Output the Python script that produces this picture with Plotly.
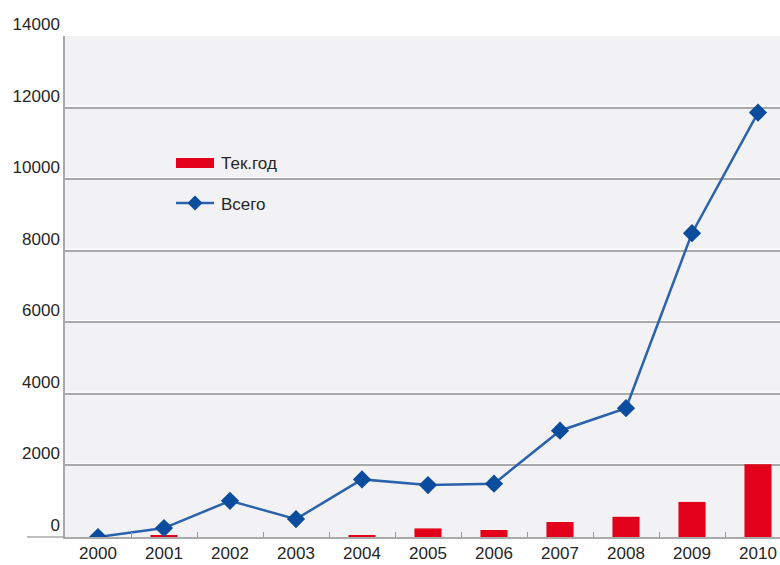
import plotly.graph_objects as go

years = ["2000", "2001", "2002", "2003", "2004", "2005",
         "2006", "2007", "2008", "2009", "2010"]
current_year = [0, 30, 0, 0, 50, 240, 195, 420, 565, 980, 2030]
total = [0, 250, 1010, 500, 1610, 1450, 1490, 2970, 3600, 8490, 11860]
y_ticks = [0, 2000, 4000, 6000, 8000, 10000, 12000, 14000]

RED = "#e2001a"
BLUE_LINE = "#2a62ab"
BLUE_MARK = "#0c4c9c"
GRID = "#a9a9a9"
TEXT = "#262626"
FONT = "Liberation Sans, Arial, sans-serif"

W, H = 780, 565
L, T, B = 65, 36, 28
plot_w = W - L
plot_h = H - T - B
band = 66.0


def px_x(x):
    return (x - L) / plot_w


def px_y(y):
    return (H - B - y) / plot_h


fig = go.Figure()

fig.add_trace(go.Bar(
    x=years, y=current_year, name="Тек.год",
    marker=dict(color=RED, line=dict(width=0)),
    width=0.41,
))

fig.add_trace(go.Scatter(
    x=years, y=total, name="Всего", mode="lines+markers",
    line=dict(color=BLUE_LINE, width=2.5),
    marker=dict(symbol="diamond", size=14, color=BLUE_MARK,
                line=dict(width=0)),
))

shapes = []
# thin highlight just above each gridline
for v in y_ticks[1:-1]:
    yp = v / 14000
    shapes.append(dict(type="line", xref="paper", yref="paper",
                       x0=0, x1=1, y0=yp + 1.6 / plot_h, y1=yp + 1.6 / plot_h,
                       line=dict(color="#ffffff", width=1.2), layer="below"))
# zero line extends left past the value axis
shapes.append(dict(type="line", xref="paper", yref="paper",
                   x0=px_x(27), x1=0, y0=0, y1=0,
                   line=dict(color=GRID, width=1.5)))

# legend: red swatch
shapes.append(dict(type="rect", xref="paper", yref="paper",
                   x0=px_x(176), x1=px_x(214), y0=px_y(168), y1=px_y(158),
                   fillcolor=RED, line=dict(width=0)))
# legend: line with diamond
shapes.append(dict(type="line", xref="paper", yref="paper",
                   x0=px_x(176), x1=px_x(214), y0=px_y(203), y1=px_y(203),
                   line=dict(color=BLUE_LINE, width=2.5)))
cx, cy, r = 195, 203, 7.5
shapes.append(dict(type="path", xref="paper", yref="paper",
                   path=(f"M {px_x(cx)},{px_y(cy - r)} L {px_x(cx + r)},{px_y(cy)} "
                         f"L {px_x(cx)},{px_y(cy + r)} L {px_x(cx - r)},{px_y(cy)} Z"),
                   fillcolor=BLUE_MARK, line=dict(width=0)))

annotations = [
    dict(text="Тек.год", xref="paper", yref="paper", x=px_x(219), y=px_y(163),
         xanchor="left", yanchor="middle", showarrow=False,
         font=dict(family=FONT, size=17, color=TEXT)),
    dict(text="Всего", xref="paper", yref="paper", x=px_x(219), y=px_y(204),
         xanchor="left", yanchor="middle", showarrow=False,
         font=dict(family=FONT, size=17, color=TEXT)),
]

fig.update_layout(
    width=W, height=H,
    margin=dict(l=L, r=0, t=T, b=B, pad=0),
    paper_bgcolor="#ffffff",
    plot_bgcolor="#f2f2f4",
    showlegend=False,
    bargap=0.59,
    shapes=shapes,
    annotations=annotations,
    font=dict(family=FONT, size=17, color=TEXT),
    xaxis=dict(
        type="category",
        range=[-0.5, -0.5 + plot_w / band],
        showgrid=False,
        showline=True, linecolor=GRID, linewidth=1.5,
        ticks="inside", tickson="boundaries", ticklen=5,
        tickcolor="#999999", tickwidth=1,
        tickfont=dict(family=FONT, size=17, color=TEXT),
        fixedrange=True,
    ),
    yaxis=dict(
        range=[0, 14000],
        tickvals=y_ticks,
        ticktext=[str(v) for v in y_ticks],
        ticklabelposition="outside top",
        showgrid=True, gridcolor=GRID, gridwidth=1.5,
        showline=True, linecolor=GRID, linewidth=1.5,
        zeroline=False,
        ticks="",
        ticklabelstandoff=0,
        tickfont=dict(family=FONT, size=17, color=TEXT),
        fixedrange=True,
    ),
)

fig.write_html("out.html")
